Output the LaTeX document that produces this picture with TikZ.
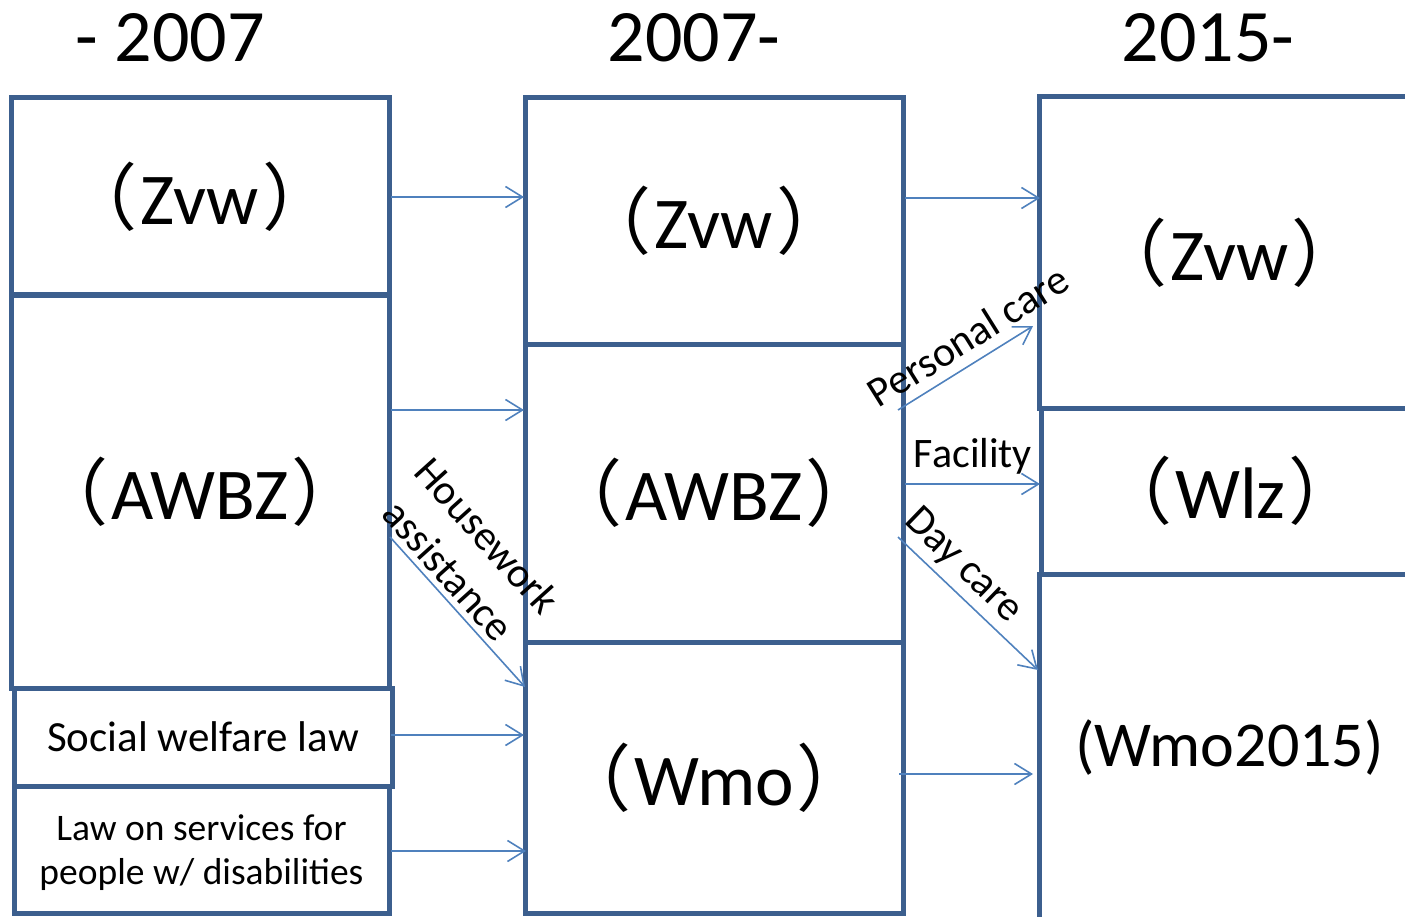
\documentclass[tikz,border=0pt]{standalone}
\usepackage{fontspec}
\setmainfont{Carlito}
\newfontfamily\cjk{Noto Sans CJK JP}
\usetikzlibrary{arrows.meta,calc}
\definecolor{boxc}{HTML}{3C5F8E}
\definecolor{arrc}{HTML}{4F81BD}
\newcommand{\fwp}[1]{{\cjk （}\hspace{3pt}#1\hspace{3pt}{\cjk ）}}
\begin{document}
\begin{tikzpicture}[x=1pt,y=-1pt,
 box/.style={draw=boxc, line width=5pt, rectangle, inner sep=0pt, outer sep=0pt},
 big/.style={font=\fontsize{73}{80}\selectfont},
 small/.style={font=\fontsize{42}{52}\selectfont},
 head/.style={font=\fontsize{74}{80}\selectfont, inner sep=0pt},
 arr/.style={draw=arrc, line width=1.6pt, -{Straight Barb[length=17pt,width=21pt,line width=1.6pt]}},
]
\useasboundingbox (0,0) rectangle (1405,917);
\clip (0,0) rectangle (1405,917);

% headings
\node[head] (h1) at (170,38) {- 2007};
\node[head] (h2) at (694,38) {2007-};
\node[head] (h3) at (1208,38) {2015-};

% column 1
\node[box, big, minimum width=378pt, minimum height=197pt] (a1) at (200,196.5) {\fwp{Zvw}};
\node[box, big, minimum width=378pt, minimum height=393pt] (a2) at (200,491.5) {\fwp{AWBZ}};
\node[box, font=\fontsize{43}{46}\selectfont, minimum width=378pt, minimum height=98pt] (a3) at (203,737) {Social welfare law};
\node[box, minimum width=375pt, minimum height=127pt] (a4) at (201.5,849.5) {};
\node[font=\fontsize{37.5}{44}\selectfont, align=center] (a4t) at (201.5,853) {Law on services for\\people w/ disabilities};

% column 2
\node[box, big, minimum width=378pt, minimum height=246pt] (b1) at (714,221) {\fwp{Zvw}};
\node[box, big, minimum width=378pt, minimum height=298pt] (b2) at (714,493) {\fwp{AWBZ}};
\node[box, big, minimum width=378pt, minimum height=271pt] (b3) at (714,777.5) {\fwp{Wmo}};

% column 3
\node[box, big, minimum width=381pt, minimum height=311pt] (c1) at (1229.5,252.5) {\fwp{Zvw}};
\node[box, big, minimum width=379pt, minimum height=166pt] (c2) at (1230.5,491) {\fwp{Wlz}};
\node[box, font=\fontsize{64}{72}\selectfont, minimum width=381pt, minimum height=348pt] (c3) at (1229.5,748) {(Wmo2015)};

% arrows col1 -> col2
\draw[arr] ($(a1.east |- 0,197)+(2,0)$) -- ($(b1.west |- 0,197)+(-1,0)$);
\draw[arr] ($(a2.east |- 0,410)+(2,0)$) -- ($(b2.west |- 0,410)+(-1,0)$);
\draw[arr] ($(a2.east |- 0,537)+(1,0)$) -- (b3.west |- 0,687);
\draw[arr] ($(a3.east |- 0,735)+(-1,0)$) -- ($(b3.west |- 0,735)+(-1,0)$);
\draw[arr] ($(a4.east |- 0,851)+(2,0)$) -- ($(b3.west |- 0,851)+(1,0)$);

% arrows col2 -> col3
\draw[arr] ($(b1.east |- 0,198)+(2,0)$) -- ($(c1.west |- 0,198)+(1,0)$);
\draw[arr] ($(b2.east |- 0,410)+(-5,0)$) -- ($(c1.west |- 0,326)+(-6,0)$);
\draw[arr] ($(b2.east |- 0,484)+(2,0)$) -- ($(c2.west |- 0,484)+(-1,0)$);
\draw[arr] ($(b2.east |- 0,537)+(-5,0)$) -- ($(c3.west |- 0,670)+(-1,0)$);
\draw[arr] ($(b3.east |- 0,774)+(-4,0)$) -- ($(c3.west |- 0,774)+(-6,0)$);

% labels
\node[small, rotate=32] (lpc) at (968,336) {Personal care};
\node[small] (lfa) at (973,456) {Facility};
\node[small, rotate=-44] (ldc) at (963,566) {Day care};
\node[small, rotate=-48, align=center] (lha) at (468,553) {Housework\\assistance};
\end{tikzpicture}
\end{document}
